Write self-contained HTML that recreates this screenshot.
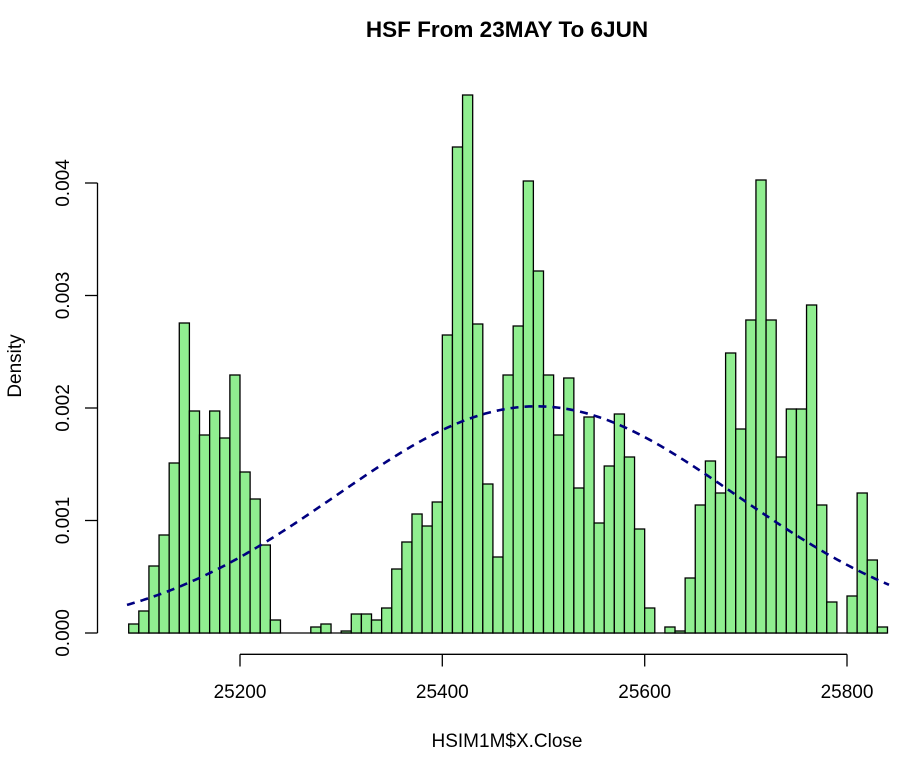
<!DOCTYPE html>
<html><head><meta charset="utf-8"><style>
html,body{margin:0;padding:0;background:#fff;}
svg{display:block;font-family:"Liberation Sans",Arial,sans-serif;}
</style></head><body>
<svg id="s" width="914" height="758" viewBox="0 0 914 758" xmlns="http://www.w3.org/2000/svg">
<rect width="914" height="758" fill="#fff"/>
<text x="507" y="37" text-anchor="middle" font-size="22.5" font-weight="bold">HSF From 23MAY To 6JUN</text>
<g id="bars"></g>
<path id="curve" fill="none" stroke="#000080" stroke-width="2.6" stroke-dasharray="8,6"/>
<g stroke="#000" stroke-width="1.3">
<line x1="97.5" y1="183" x2="97.5" y2="633"/>
<line x1="85" y1="633" x2="97.5" y2="633"/>
<line x1="85" y1="520.5" x2="97.5" y2="520.5"/>
<line x1="85" y1="408" x2="97.5" y2="408"/>
<line x1="85" y1="295.5" x2="97.5" y2="295.5"/>
<line x1="85" y1="183" x2="97.5" y2="183"/>
<line x1="240" y1="654.3" x2="847" y2="654.3"/>
<line x1="240" y1="654.3" x2="240" y2="666.5"/>
<line x1="442.3" y1="654.3" x2="442.3" y2="666.5"/>
<line x1="644.7" y1="654.3" x2="644.7" y2="666.5"/>
<line x1="847" y1="654.3" x2="847" y2="666.5"/>
</g>
<g font-size="19" text-anchor="middle">
<text transform="translate(69,633) rotate(-90)">0.000</text>
<text transform="translate(69,520.5) rotate(-90)">0.001</text>
<text transform="translate(69,408) rotate(-90)">0.002</text>
<text transform="translate(69,295.5) rotate(-90)">0.003</text>
<text transform="translate(69,183) rotate(-90)">0.004</text>
<text x="240" y="698">25200</text>
<text x="442.3" y="698">25400</text>
<text x="644.7" y="698">25600</text>
<text x="847" y="698">25800</text>
<text x="507" y="747">HSIM1M$X.Close</text>
<text transform="translate(21,366) rotate(-90)">Density</text>
</g>
</svg>
<script>
var tops=[624,611,566,535,463,323,411,435,411,438,375,472,499,545,620,633,633,633,627,624,633,631,614,614,620,608,569,542,514,526,502,335,147,95,324,484,557,375,326,181,271,375,435,378,488,417,523,466,414,457,529,608,633,627,631,578,505,461,493,353,429,320,180,320,457,409,409,305,505,602,633,596,493,560,627];
var g=document.getElementById('bars'),h='';
var x0=128.7,w=10.117;
h+='<line x1="'+x0+'" y1="633" x2="'+(x0+75*w)+'" y2="633" stroke="#000" stroke-width="1.3"/>';
for(var i=0;i<tops.length;i++){var t=tops[i];if(t>=633)continue;
h+='<rect x="'+(x0+i*w).toFixed(2)+'" y="'+t+'" width="'+w.toFixed(2)+'" height="'+(633-t)+'" fill="#90ee90" stroke="#000" stroke-width="1.3"/>';}
g.innerHTML=h;
var m=25493,s=198,d='';
for(var px=127;px<=889;px+=2){var v=25200+(px-240)/1.01172;var f=Math.exp(-Math.pow(v-m,2)/(2*s*s))/(s*Math.sqrt(2*Math.PI));var y=633-f*112500;d+=(px==127?'M':'L')+px+' '+y.toFixed(2);}
document.getElementById('curve').setAttribute('d',d);
</script>
</body></html>
